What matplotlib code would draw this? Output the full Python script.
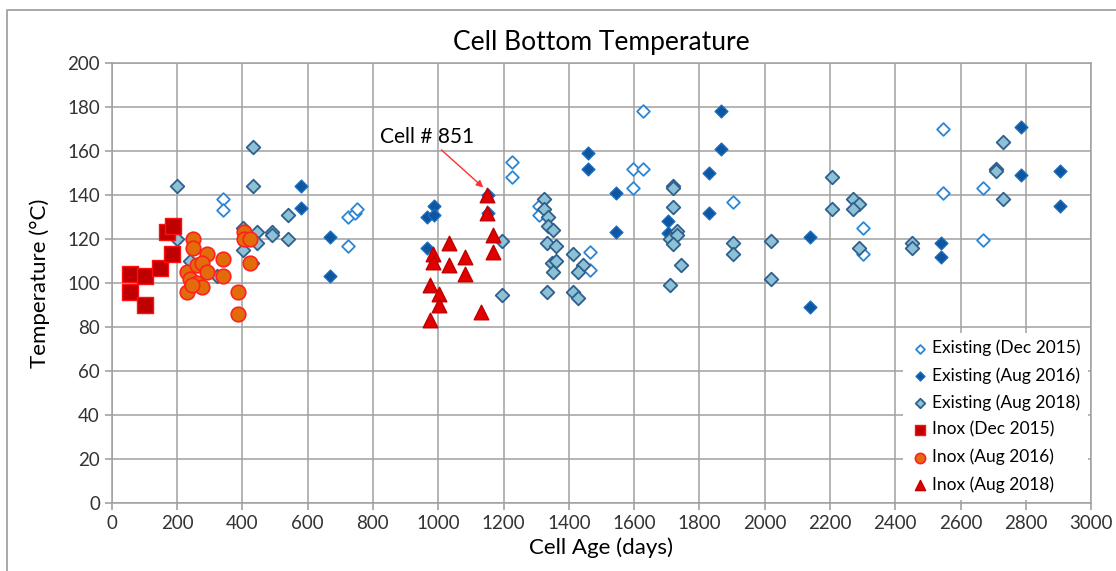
"""
Cell bottom temperature vs cell age, scatter of existing and Inox cells
"""
import matplotlib
matplotlib.use('Agg')
import matplotlib.pyplot as plt
from matplotlib.lines import Line2D

plt.rcParams['font.family'] = ['Lato', 'DejaVu Sans']

# Existing cells (Dec 2015) - open diamonds
ex_dec15_x = [342, 342, 725, 745, 750, 725, 1225, 1225, 1310, 1310, 1465, 1465,
              1596, 1626, 1596, 1627, 1902, 2302, 2302, 2545, 2545, 2668, 2668]
ex_dec15_y = [138, 133, 130, 132, 133.5, 117, 155, 148, 135, 131, 114, 106,
              152, 152, 143, 178, 137, 125, 113, 170, 141, 143, 119.5]

# Existing cells (Aug 2016) - filled dark diamonds
ex_aug16_x = [580, 580, 669, 669, 965, 988, 988, 965, 1154, 1154, 1460, 1460,
              1545, 1545, 1705, 1705, 1829, 1829, 1866, 1866, 2139, 2139,
              2539, 2539, 2784, 2784, 2904, 2904]
ex_aug16_y = [144, 134, 121, 103, 130, 135, 131, 116, 140, 132, 159, 152,
              141, 123, 128, 122.5, 150, 132, 178, 161, 121, 89,
              118, 112, 171, 149, 151, 135]

# Existing cells (Aug 2018) - light diamonds
ex_aug18_x = [199, 199, 240, 322, 403, 403, 429, 432, 432, 446, 446, 490, 490,
              541, 541, 1195, 1195, 1324, 1324, 1337, 1337, 1351, 1332, 1361,
              1348, 1361, 1351, 1334, 1412, 1444, 1429, 1412, 1429,
              1710, 1718, 1718, 1718, 1732, 1732, 1718, 1744, 1710, 1902, 1902,
              2019, 2019, 2205, 2205, 2271, 2290, 2271, 2290, 2450, 2450,
              2708, 2708, 2731, 2731]
ex_aug18_y = [144, 120, 110, 103, 125, 115, 109, 162, 144, 123, 118, 123, 122,
              131, 120, 119, 94.5, 138, 133.5, 130, 126, 124, 118, 117,
              109, 110, 105, 96, 113, 108, 105, 96, 93,
              120, 144, 143, 134.5, 123.5, 122, 117.5, 108, 99, 118, 113,
              119, 102, 148, 133.5, 138, 136, 133.5, 116, 118, 116,
              152, 151, 164, 138]

# Inox cells (Dec 2015) - squares
inox_dec15_x = [56, 102, 56, 102, 148, 184, 168, 187]
inox_dec15_y = [104, 103, 96, 90, 107, 113, 123, 126]

# Inox cells (Aug 2016) - circles
inox_aug16_x = [250, 250, 293, 340, 232, 260, 275, 293, 340, 240, 262, 275,
                232, 245, 388, 388, 405, 405, 424, 424]
inox_aug16_y = [120, 116, 113, 111, 105, 108, 109, 105, 103, 102, 100, 98,
                96, 99, 96, 86, 123, 120, 120, 109]

# Inox cells (Aug 2018) - triangles
inox_aug18_x = [1149, 1149, 1167, 1167, 1034, 1082, 1082, 1034, 983, 983,
                975, 1003, 1003, 975, 1131]
inox_aug18_y = [140, 131.7, 122, 114, 118, 112, 104.3, 108, 113, 109.5,
                99, 95, 90, 83, 87]

x_ticks = list(range(0, 3001, 200))
y_ticks = list(range(0, 201, 20))

fig = plt.figure(figsize=(11.16, 5.71), dpi=100)
ax = fig.add_axes([0.1001, 0.1191, 0.8777, 0.7706])

# outer chart frame: only left and top edges are inside the picture
fig.add_artist(Line2D([0.0065, 0.0065, 1.0], [0.0, 0.9825, 0.9825],
                      transform=fig.transFigure, color='#A8A8A8', linewidth=1.4))

ax.scatter(ex_dec15_x, ex_dec15_y, marker='D', s=42, facecolor='white',
           edgecolor='#2A86D4', linewidth=1.3, zorder=3, label='Existing (Dec 2015)')
ax.scatter(ex_aug16_x, ex_aug16_y, marker='D', s=42, facecolor='#0E56A0',
           edgecolor='#1A6CC0', linewidth=1.0, zorder=3, label='Existing (Aug 2016)')
ax.scatter(ex_aug18_x, ex_aug18_y, marker='D', s=48, facecolor='#8DC2D6',
           edgecolor='#2E5F8E', linewidth=1.3, zorder=3, label='Existing (Aug 2018)')
ax.scatter(inox_dec15_x, inox_dec15_y, marker='s', s=120, facecolor='#C00000',
           edgecolor='#FF1010', linewidth=1.0, zorder=4, label='Inox (Dec 2015)')
ax.scatter(inox_aug16_x, inox_aug16_y, marker='o', s=110, facecolor='#E36C0A',
           edgecolor='#FF2020', linewidth=1.2, zorder=4, label='Inox (Aug 2016)')
ax.scatter(inox_aug18_x, inox_aug18_y, marker='^', s=110, facecolor='#E00000',
           edgecolor='#C00000', linewidth=1.0, zorder=4, label='Inox (Aug 2018)')

ax.annotate('Cell # 851', xy=(1138, 143.4), xytext=(822, 166.3),
            fontsize=15, va='center', ha='left',
            arrowprops=dict(arrowstyle='-|>', color='#FF3030', lw=1.0,
                            shrinkA=0, shrinkB=0, mutation_scale=10))

ax.set_xlim(0, 3000)
ax.set_ylim(0, 200)
ax.set_xticks(x_ticks)
ax.set_yticks(y_ticks)
ax.tick_params(labelsize=13.5, labelcolor='#333333', length=5, width=1.1,
               color='#9A9A9A')
ax.grid(True, color='#A0A0A0', linewidth=1.1)
ax.set_axisbelow(True)
for s in ax.spines.values():
    s.set_color('#A0A0A0')
    s.set_linewidth(1.1)

ax.set_title('Cell Bottom Temperature', fontsize=19, pad=9)
ax.set_xlabel('Cell Age (days)', fontsize=16, labelpad=4)
ax.set_ylabel('Temperature (°C)', fontsize=16, labelpad=12)

leg = ax.legend(loc='lower right', fontsize=12.5, frameon=True, framealpha=1.0,
                edgecolor='white', borderaxespad=0.2, handletextpad=0.1,
                labelspacing=0.62, markerscale=0.7, handlelength=1.2)
leg.get_frame().set_linewidth(0)

fig.savefig('out.png', dpi=100)
